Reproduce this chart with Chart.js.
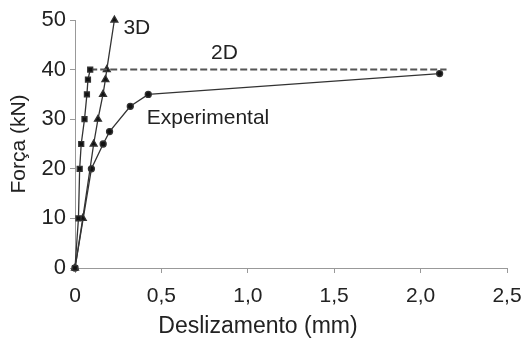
<!DOCTYPE html>
<html>
<head>
<meta charset="utf-8">
<script src="https://cdn.jsdelivr.net/npm/chart.js@4/dist/chart.umd.min.js"></script>
<style>
  html, body { margin: 0; padding: 0; background: #fff; }
  #wrap { width: 522px; height: 338px; }
</style>
</head>
<body>
<div id="wrap"><canvas id="c" width="522" height="338"></canvas></div>
<script>
/* Força x deslizamento — 2D, 3D, Experimental */

const x2D = [0, 0.02, 0.027, 0.036, 0.055, 0.069, 0.075, 0.088, 2.15];
const y2D = [0, 10, 20, 25, 30, 35, 38, 40, 40];

const x3D = [0, 0.045, 0.108, 0.133, 0.162, 0.176, 0.184, 0.228];
const y3D = [0, 10, 25, 30, 35, 38, 40, 50];

const xExp = [0, 0.095, 0.163, 0.2, 0.32, 0.424, 2.11];
const yExp = [0, 20, 25, 27.5, 32.6, 35, 39.2];

const xTicks = [0, 0.5, 1.0, 1.5, 2.0, 2.5];
const yTicks = [0, 10, 20, 30, 40, 50];

const seriesLabels = [
  { text: '3D', x: 0.28, y: 48.3, align: 'left' },
  { text: '2D', x: 0.865, y: 43.4, align: 'center' },
  { text: 'Experimental', x: 0.415, y: 30.2, align: 'left' },
];

const FONT = '"Liberation Sans", Arial, sans-serif';
const INK = '#222';
const AXIS = '#999';

function pts(xs, ys) {
  return xs.map((x, i) => ({ x: x, y: ys[i] }));
}

function fmtComma(v) {
  return v === 0 ? '0' : v.toFixed(1).replace('.', ',');
}

/* text drawn on top: series names and axis titles */
const textPlugin = {
  id: 'texts',
  afterDraw(chart) {
    const ctx = chart.ctx;
    const xs = chart.scales.x, ys = chart.scales.y;
    ctx.save();
    ctx.fillStyle = INK;
    ctx.textBaseline = 'middle';
    ctx.font = '21px ' + FONT;
    seriesLabels.forEach(l => {
      ctx.textAlign = l.align;
      ctx.fillText(l.text, xs.getPixelForValue(l.x), ys.getPixelForValue(l.y));
    });

    ctx.font = '23px ' + FONT;
    ctx.textAlign = 'center';
    ctx.fillText('Deslizamento (mm)', 258, 327);

    ctx.translate(19, (chart.chartArea.top + chart.chartArea.bottom) / 2);
    ctx.rotate(-Math.PI / 2);
    ctx.font = '21px ' + FONT;
    ctx.fillText('Força (kN)', 0, 0);
    ctx.restore();
  }
};

const last2D = x2D.length - 1;

new Chart(document.getElementById('c'), {
  type: 'scatter',
  data: {
    datasets: [
      {
        label: '2D',
        data: pts(x2D, y2D),
        showLine: true,
        clip: false,
        borderColor: '#333',
        borderWidth: 1.3,
        backgroundColor: '#111',
        pointStyle: 'rect',
        pointRadius: x2D.map((_, i) => i === last2D ? 0 : 3.5),
        segment: {
          borderDash: ctx => ctx.p1DataIndex === last2D ? [7, 3] : undefined,
          borderWidth: ctx => ctx.p1DataIndex === last2D ? 2 : 1.3,
          borderColor: ctx => ctx.p1DataIndex === last2D ? '#555' : '#333',
        },
      },
      {
        label: '3D',
        data: pts(x3D, y3D),
        showLine: true,
        clip: false,
        borderColor: '#333',
        borderWidth: 1.3,
        backgroundColor: '#111',
        pointStyle: 'triangle',
        pointRadius: 4,
      },
      {
        label: 'Experimental',
        data: pts(xExp, yExp),
        showLine: true,
        clip: false,
        borderColor: '#333',
        borderWidth: 1.3,
        backgroundColor: '#111',
        pointStyle: 'circle',
        pointRadius: 3,
      },
    ],
  },
  options: {
    responsive: false,
    animation: false,
    layout: { padding: { left: 0, right: 0, top: 20, bottom: 0 } },
    plugins: {
      legend: { display: false },
      tooltip: { enabled: false },
    },
    elements: { line: { tension: 0 }, point: { borderWidth: 0, hoverRadius: 0 } },
    scales: {
      x: {
        type: 'linear',
        min: 0,
        max: 2.5,
        afterBuildTicks: s => { s.ticks = xTicks.map(v => ({ value: v })); },
        afterFit: s => { s.height = 70; s.paddingLeft = 0; s.paddingRight = 15; },
        ticks: {
          color: INK,
          font: { family: FONT, size: 21 },
          padding: 11,
          maxRotation: 0,
          callback: v => fmtComma(v),
        },
        grid: { drawOnChartArea: false, drawTicks: true, tickLength: 5, color: AXIS },
        border: { color: AXIS, width: 1 },
      },
      y: {
        type: 'linear',
        min: 0,
        max: 50,
        afterBuildTicks: s => { s.ticks = yTicks.map(v => ({ value: v })); },
        afterFit: s => { s.width = 75; },
        ticks: {
          color: INK,
          font: { family: FONT, size: 22 },
          padding: 4,
        },
        grid: { drawOnChartArea: false, drawTicks: true, tickLength: 5, color: AXIS },
        border: { color: AXIS, width: 1 },
      },
    },
  },
  plugins: [textPlugin],
});
</script>
</body>
</html>
